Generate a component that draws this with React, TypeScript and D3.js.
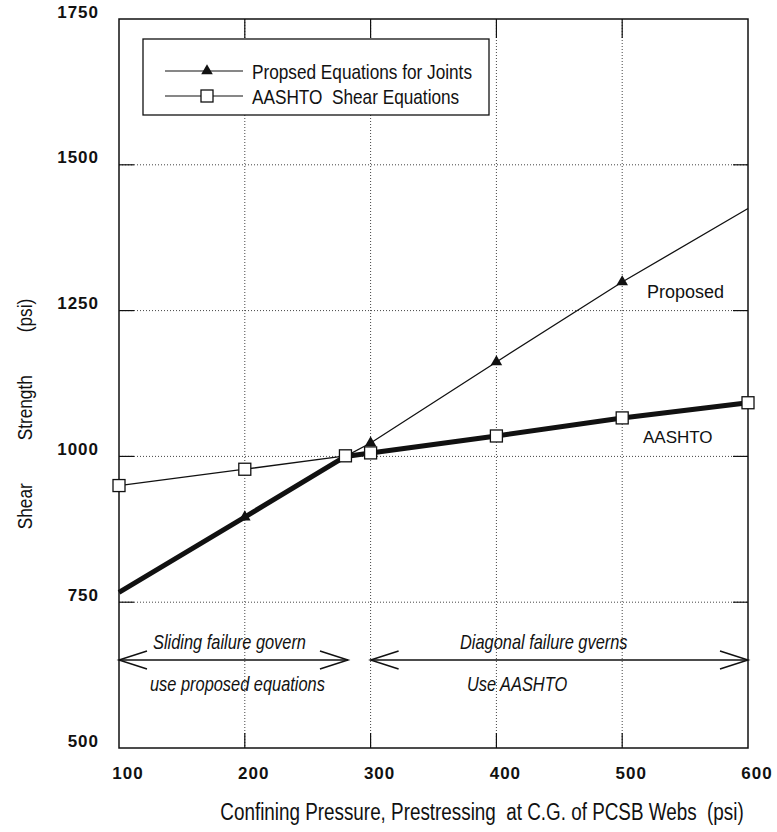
import React from "react";
import * as d3 from "d3";

// ---- data ----
const pressures = [100, 200, 280, 300, 400, 500, 600];
const proposedStrength = [767, 896, 1000, 1023, 1162, 1299, 1425];
const aashtoStrength = [950, 978, 1001, 1006, 1035, 1066, 1092];
const proposedMarkerAt = [200, 300, 400, 500];
const aashtoMarkerAt = [100, 200, 280, 300, 400, 500, 600];
const xTicks = [100, 200, 300, 400, 500, 600];
const yTicks = [500, 750, 1000, 1250, 1500, 1750];
const legendLabels = ["Propsed Equations for Joints", "AASHTO  Shear Equations"];
const xTitle = "Confining Pressure, Prestressing  at C.G. of PCSB Webs  (psi)";
const yTitle = "Shear         Strength         (psi)";
const regionLeft = { from: 100, to: 282, top: "Sliding failure govern", bottom: "use proposed equations" };
const regionRight = { from: 300, to: 600, top: "Diagonal failure gverns", bottom: "Use AASHTO" };

const W = 777, H = 832;
const L = 119, R = 748, T = 19, B = 748;
const SANS = "'Liberation Sans', Arial, Helvetica, sans-serif";
const INK = "#111";
const NARROW_K = 0.82;

function NText(props: { x: number; y: number; size: number; anchor?: string; italic?: boolean; rotate?: number; children: React.ReactNode }) {
  const { x, y, size, anchor, italic, rotate, children } = props;
  return (
    <text
      transform={`translate(${x},${y}) rotate(${rotate || 0}) scale(${NARROW_K},1)`}
      textAnchor={anchor || "start"}
      fontFamily={SANS}
      fontStyle={italic ? "italic" : "normal"}
      fontSize={size}
      fill={INK}
      style={{ whiteSpace: "pre" }}
    >
      {children}
    </text>
  );
}

export default function App() {
  const x = d3.scaleLinear().domain([100, 600]).range([L, R]);
  const y = d3.scaleLinear().domain([500, 1750]).range([B, T]);

  const propPts = pressures.map((p, i) => [p, proposedStrength[i]] as [number, number]);
  const aashPts = pressures.map((p, i) => [p, aashtoStrength[i]] as [number, number]);
  const envPts = pressures.map((p, i) => [p, Math.min(proposedStrength[i], aashtoStrength[i])] as [number, number]);
  const line = d3.line<[number, number]>().x(d => x(d[0])).y(d => y(d[1]));

  const tri = d3.symbol().type(d3.symbolTriangle).size(58)()!;
  const sq = 12;
  const tick = 15;

  const arrowY = 660;
  const headL = 28, headW = 9;
  const arrow = (x1: number, x2: number) => {
    const a = x(x1), b = x(x2);
    return (
      <g stroke={INK} strokeWidth={1.5} fill="none">
        <line x1={a} y1={arrowY} x2={b} y2={arrowY} />
        <polyline points={`${a + headL},${arrowY - headW} ${a},${arrowY} ${a + headL},${arrowY + headW}`} />
        <polyline points={`${b - headL},${arrowY - headW} ${b},${arrowY} ${b - headL},${arrowY + headW}`} />
      </g>
    );
  };

  return (
    <svg width={W} height={H} style={{ display: "block", position: "absolute", left: 0, top: 0, background: "#fff" }}>
      <rect x={0} y={0} width={W} height={H} fill="#fff" />
      {/* gridlines */}
      <g stroke="#444" strokeWidth={1} strokeDasharray="1,2">
        {xTicks.slice(1, -1).map(v => <line key={"gx" + v} x1={x(v)} x2={x(v)} y1={T} y2={B} />)}
        {yTicks.slice(1, -1).map(v => <line key={"gy" + v} x1={L} x2={R} y1={y(v)} y2={y(v)} />)}
      </g>
      {/* inside ticks */}
      <g stroke={INK} strokeWidth={1.2}>
        {xTicks.slice(1, -1).map(v => (
          <g key={"tx" + v}>
            <line x1={x(v)} x2={x(v)} y1={B} y2={B - tick} />
            <line x1={x(v)} x2={x(v)} y1={T} y2={T + tick + 4} />
          </g>
        ))}
        {yTicks.slice(1, -1).map(v => (
          <g key={"ty" + v}>
            <line x1={L} x2={L + tick} y1={y(v)} y2={y(v)} />
            <line x1={R} x2={R - tick} y1={y(v)} y2={y(v)} />
          </g>
        ))}
      </g>
      <rect x={L} y={T} width={R - L} height={B - T} fill="none" stroke={INK} strokeWidth={1.5} />

      {/* series */}
      <path d={line(aashPts)!} fill="none" stroke={INK} strokeWidth={1.3} />
      <path d={line(propPts)!} fill="none" stroke={INK} strokeWidth={1.3} />
      <path d={line(envPts)!} fill="none" stroke={INK} strokeWidth={5} strokeLinejoin="round" />
      {propPts.filter(d => proposedMarkerAt.includes(d[0])).map(d => (
        <path key={"pt" + d[0]} d={tri} transform={`translate(${x(d[0])},${y(d[1])})`} fill={INK} />
      ))}
      {aashPts.filter(d => aashtoMarkerAt.includes(d[0])).map(d => (
        <rect key={"as" + d[0]} x={x(d[0]) - sq / 2} y={y(d[1]) - sq / 2} width={sq} height={sq} fill="#fff" stroke={INK} strokeWidth={1.3} />
      ))}

      {/* series labels */}
      <text x={647} y={298} fontFamily={SANS} fontSize={18} fill={INK}>Proposed</text>
      <text x={643} y={443} fontFamily={SANS} fontSize={17} fill={INK}>AASHTO</text>

      {/* region annotations */}
      {arrow(regionLeft.from, regionLeft.to)}
      {arrow(regionRight.from, regionRight.to)}
      <NText x={153} y={arrowY - 11} size={20} italic>{regionLeft.top}</NText>
      <NText x={150} y={arrowY + 31} size={20} italic>{regionLeft.bottom}</NText>
      <NText x={460} y={arrowY - 11} size={20} italic>{regionRight.top}</NText>
      <NText x={467} y={arrowY + 31} size={20} italic>{regionRight.bottom}</NText>

      {/* legend */}
      <rect x={143} y={39} width={346} height={76} fill="#fff" stroke={INK} strokeWidth={1.3} />
      {legendLabels.map((lab, i) => {
        const ly = 71 + i * 25;
        return (
          <g key={lab}>
            <line x1={165} x2={243} y1={ly} y2={ly} stroke={INK} strokeWidth={1.2} />
            {i === 0 ? (
              <path d={tri} transform={`translate(207,${ly})`} fill={INK} />
            ) : (
              <rect x={207 - sq / 2} y={ly - sq / 2} width={sq} height={sq} fill="#fff" stroke={INK} strokeWidth={1.3} />
            )}
            <NText x={252} y={ly + 7.5} size={21}>{lab}</NText>
          </g>
        );
      })}

      {/* axes labels */}
      <g fontFamily={SANS} fontWeight="bold" fontSize={17} fill={INK} letterSpacing={1}>
        {yTicks.map(v => (
          <text key={"yl" + v} x={99} y={y(v) - 7} textAnchor="end" dominantBaseline="central">{v}</text>
        ))}
        {xTicks.map(v => (
          <text key={"xl" + v} x={x(v) + 9} y={773} textAnchor="middle" dominantBaseline="central">{v}</text>
        ))}
      </g>
      <NText x={482} y={820} size={23} anchor="middle">{xTitle}</NText>
      <NText x={32} y={414} size={21} anchor="middle" rotate={-90}>{yTitle}</NText>
    </svg>
  );
}
